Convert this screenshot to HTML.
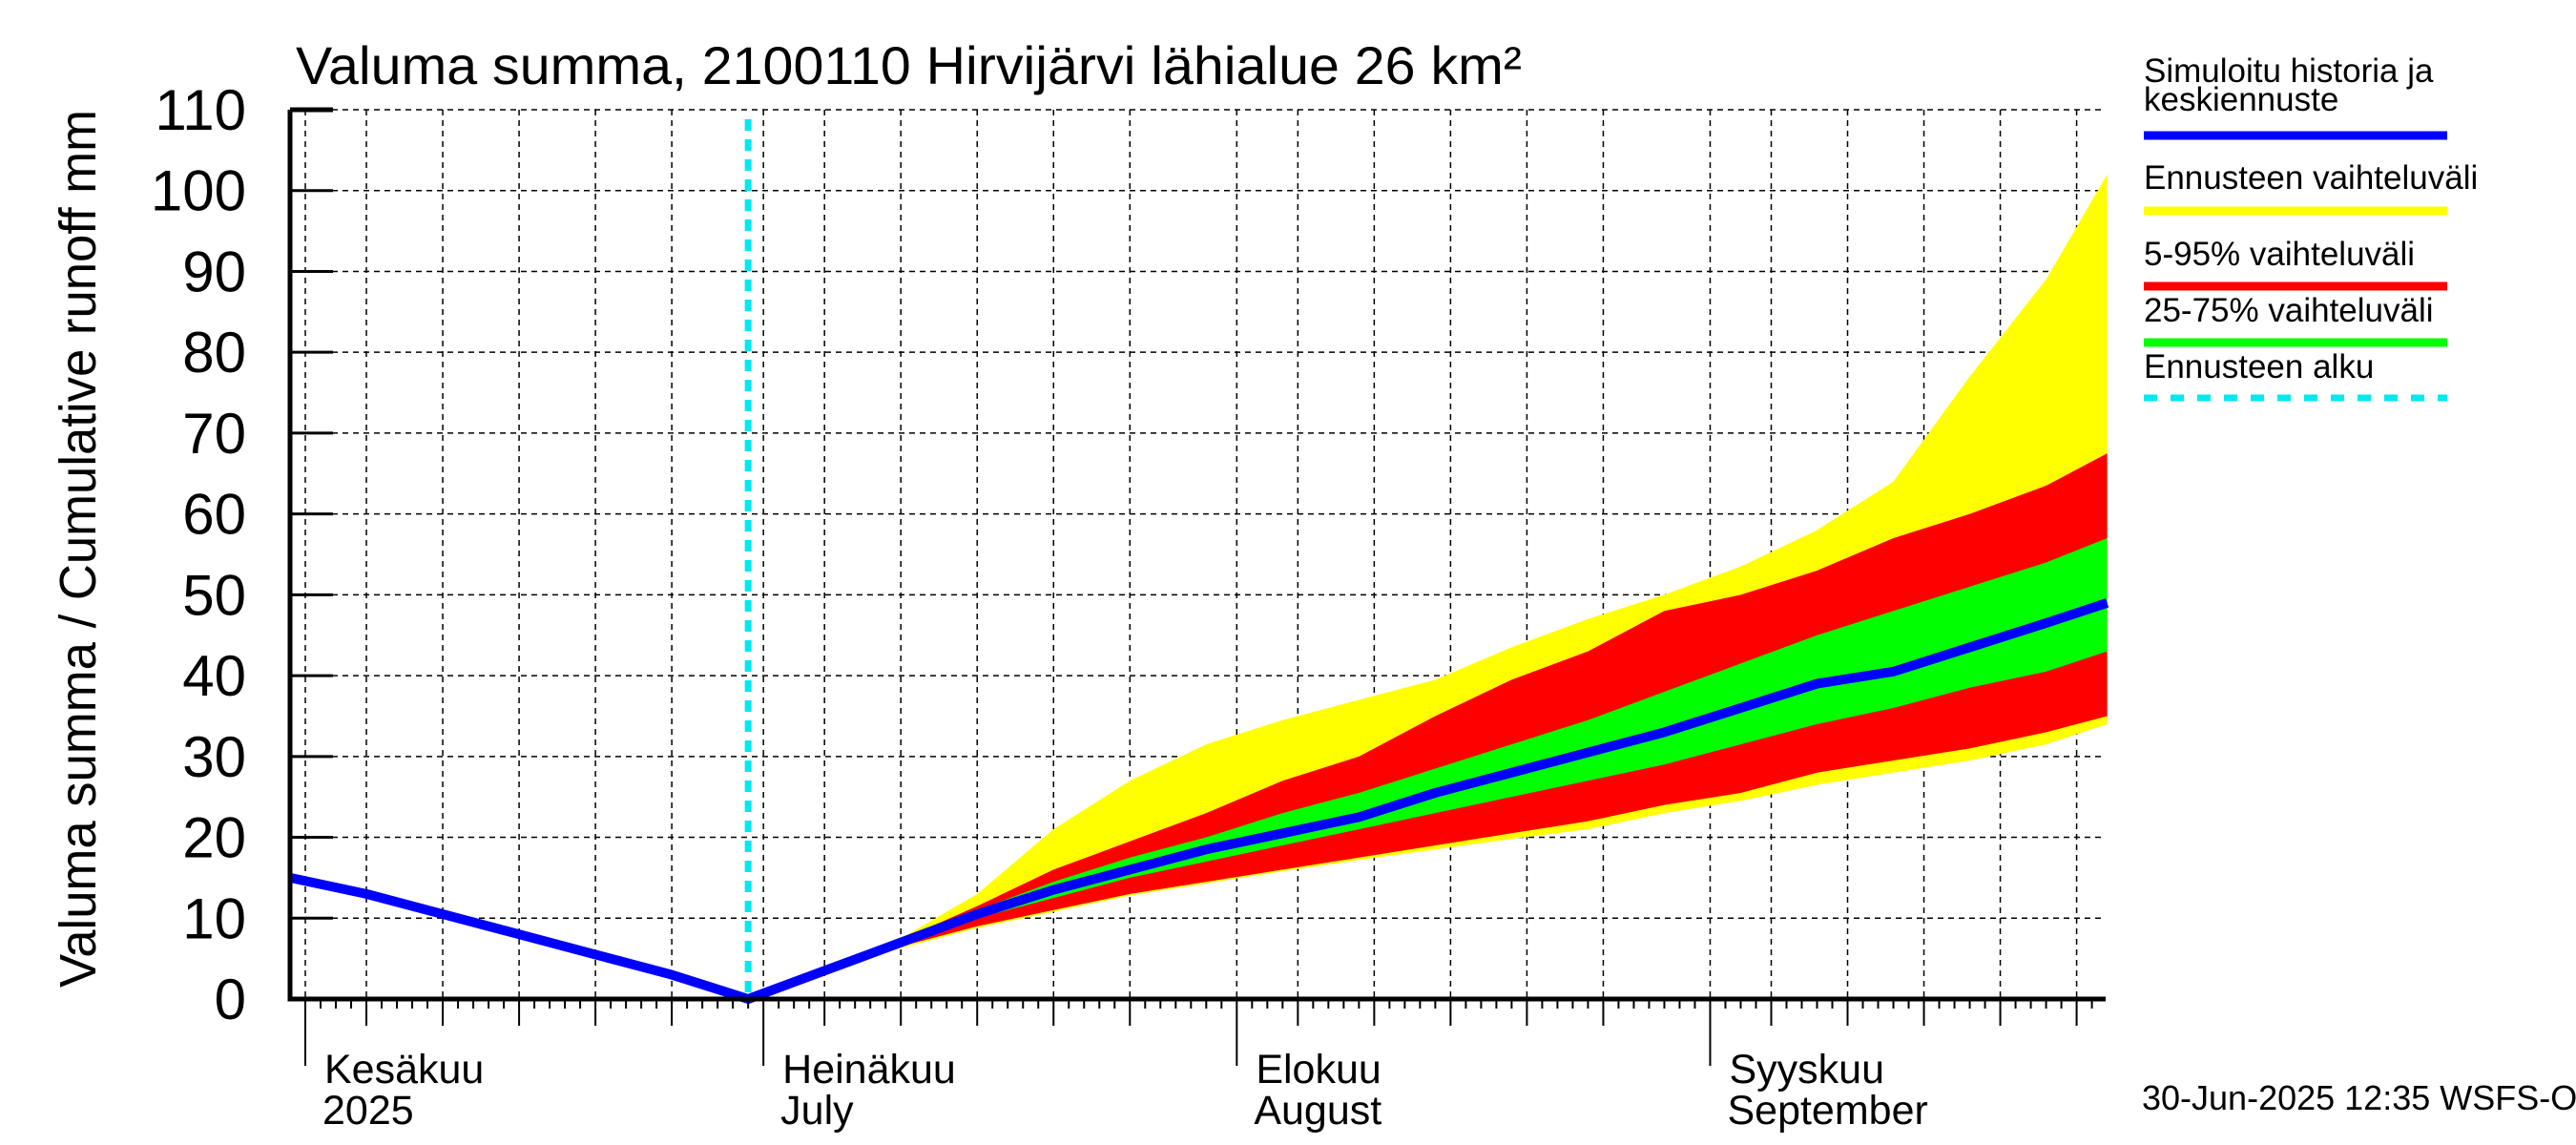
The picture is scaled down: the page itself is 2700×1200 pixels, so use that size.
<!DOCTYPE html>
<html><head><meta charset="utf-8"><style>
body{margin:0;background:#fff}
svg{display:block;font-family:"Liberation Sans",sans-serif}
</style></head><body>
<svg id="chart" width="2700" height="1200" viewBox="0 0 2700 1200" xmlns="http://www.w3.org/2000/svg">
<rect width="2700" height="1200" fill="#fff"/>
<text x="310" y="88" font-size="56" textLength="1285" lengthAdjust="spacingAndGlyphs">Valuma summa, 2100110 Hirvijärvi lähialue 26 km²</text>
<text transform="translate(100,1035) rotate(-90)" font-size="54" textLength="920" lengthAdjust="spacingAndGlyphs">Valuma summa / Cumulative runoff    mm</text>
<g id="grid"></g><g id="bands"></g><g id="lines"></g><g id="axes"></g>
<g font-size="35">
<text x="2247" y="86">Simuloitu historia ja</text>
<text x="2247" y="116">keskiennuste</text>
<line x1="2247" y1="142" x2="2565" y2="142" stroke="#0000ff" stroke-width="9"/>
<text x="2247" y="198">Ennusteen vaihteluväli</text>
<line x1="2247" y1="221" x2="2565" y2="221" stroke="#ffff00" stroke-width="9"/>
<text x="2247" y="278">5-95% vaihteluväli</text>
<line x1="2247" y1="300" x2="2565" y2="300" stroke="#ff0000" stroke-width="9"/>
<text x="2247" y="337">25-75% vaihteluväli</text>
<line x1="2247" y1="359" x2="2565" y2="359" stroke="#00ff00" stroke-width="9"/>
<text x="2247" y="396">Ennusteen alku</text>
<line x1="2247" y1="417" x2="2565" y2="417" stroke="#00e8f0" stroke-width="7" stroke-dasharray="14,14"/>
</g>
<text x="2245" y="1163" font-size="36">30-Jun-2025 12:35 WSFS-O</text>
</svg>
<script>
// days since 31 May 2025
const histDays=[0,5,10,15,20,25,30];
const histVals=[15,13,10.5,8,5.5,3,0];
const fcDays=[30,35,40,45,50,55,60,65,70,75,80,85,90,95,100,105,110,115,119];
const median=[0,3.5,7,10.5,13.5,16,18.5,20.5,22.5,25.5,28,30.5,33,36,39,40.5,43.5,46.5,49];
const maxV=[0,3.8,7.5,13,21,27,31.5,34.5,37,39.5,43.5,47,50,53.5,58,64,77,89,102];
const p95=[0,3.7,7.3,11.5,16,19.5,23,27,30,35,39.5,43,48,50,53,57,60,63.5,67.5];
const p75=[0,3.6,7.1,11,14.5,17.5,20,23,25.5,28.5,31.5,34.5,38,41.5,45,48,51,54,57];
const p25=[0,3.4,6.8,10,12.5,15,17,19,21,23,25,27,29,31.5,34,36,38.5,40.5,43];
const p5=[0,3.3,6.5,9,11,13,14.5,16,17.5,19,20.5,22,24,25.5,28,29.5,31,33,35];
const minV=[0,3.2,6.3,8.8,10.8,12.8,14.3,15.8,17.2,18.5,19.8,21,23,24.5,26.5,28,29.5,31.5,34];
const yTicks=[0,10,20,30,40,50,60,70,80,90,100,110];
const monthDays=[1,31,62,93];
const monthFi=["Kesäkuu","Heinäkuu","Elokuu","Syyskuu"];
const monthEn=["2025","July","August","September"];
const forecastDay=30;

const X0=304,X1=2207,Y0=1047,Y1=115,DMAX=118.9,YMAX=110;
const x=d=>X0+(d/DMAX)*(X1-X0);
const y=v=>Y0-(v/YMAX)*(Y0-Y1);
const NS="http://www.w3.org/2000/svg";
function mk(tag,attrs,parent){const e=document.createElementNS(NS,tag);for(const k in attrs)e.setAttribute(k,attrs[k]);parent.appendChild(e);return e;}
const grid=document.getElementById('grid'),bands=document.getElementById('bands'),lines=document.getElementById('lines'),axes=document.getElementById('axes');

yTicks.forEach(v=>{
  const g=mk('line',{x1:X0,x2:X1,y1:y(v),y2:y(v),stroke:'#000','stroke-width':1.5,'stroke-dasharray':'6,5'},grid);
  
  
  const t=mk('line',{x1:X0,x2:X0+45,y1:y(v),y2:y(v),stroke:'#000','stroke-width':3},axes);
  
  
  const l=mk('text',{x:258,y:y(v)+21,'text-anchor':'end','font-size':60},axes);
  l.textContent=v;
  
  
});
const monthStartsAll=[1,31,62,93];
for(let d=1;d<=118;d++){
  let ms=0;for(const m of monthStartsAll) if(d>=m) ms=m;
  const dom=d-ms+1;
  const isMonth=monthStartsAll.includes(d);
  const is5=(dom%5===0 && dom<=25);
  let len=10;
  if(isMonth) len=70; else if(is5) len=28;
  const tk=mk('line',{x1:x(d),x2:x(d),y1:Y0,y2:Y0+len,stroke:'#000','stroke-width':2},axes);
  
  
  if(isMonth||is5){
    const g=mk('line',{x1:x(d),x2:x(d),y1:Y1,y2:Y0,stroke:'#000','stroke-width':1.5,'stroke-dasharray':'6,5'},grid);
    
    
  }
}
function band(upper,lower,color,name){
  let pts=fcDays.map((d,i)=>x(d)+','+y(upper[i]));
  for(let i=fcDays.length-1;i>=0;i--) pts.push(x(fcDays[i])+','+y(lower[i]));
  const p=mk('polygon',{points:pts.join(' '),fill:color},bands);
  
  
}
band(maxV,minV,'#ffff00','forecast-range-band');
band(p95,p5,'#ff0000','band-5-95');
band(p75,p25,'#00ff00','band-25-75');
const fs=mk('line',{x1:x(forecastDay),x2:x(forecastDay),y1:Y1+10,y2:Y0,stroke:'#00e8f0','stroke-width':7,'stroke-dasharray':'12,9'},lines);


const mp=histDays.map((d,i)=>x(d)+','+y(histVals[i])).concat(fcDays.slice(1).map((d,i)=>x(d)+','+y(median[i+1])));
const ml=mk('polyline',{points:mp.join(' '),fill:'none',stroke:'#0000ff','stroke-width':10,'stroke-linejoin':'round'},lines);


const ax=mk('polyline',{points:`${X0},${Y1} ${X0},${Y0} ${X1},${Y0}`,fill:'none',stroke:'#000','stroke-width':5},axes);


const tl=mk('line',{x1:X0,x2:X0+45,y1:Y1,y2:Y1,stroke:'#000','stroke-width':5},axes);


monthDays.forEach((d,i)=>{
  const a=mk('text',{x:x(d)+20,y:1135,'font-size':43},axes);
  a.textContent=monthFi[i];
  
  
  const b=mk('text',{x:x(d)+18,y:1178,'font-size':43},axes);
  b.textContent=monthEn[i];
  
  
});
</script>
</body></html>
